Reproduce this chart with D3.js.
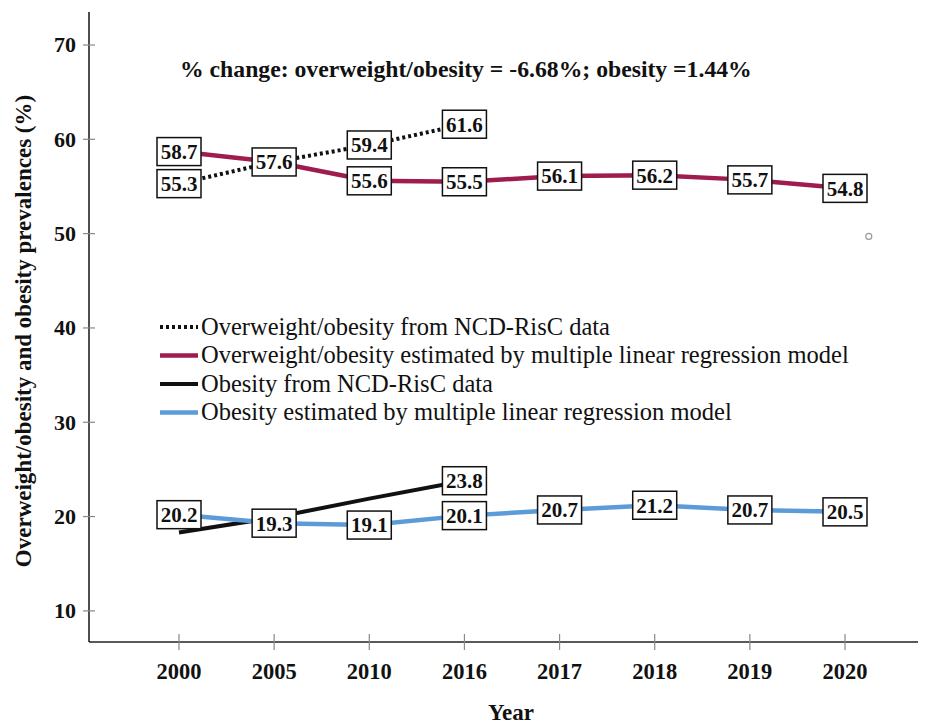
<!DOCTYPE html>
<html>
<head>
<meta charset="utf-8">
<script src="https://cdn.jsdelivr.net/npm/d3@7"></script>
<style>
  html, body { margin: 0; padding: 0; background: #fff; }
  svg { display: block; font-family: "Liberation Serif", "Times New Roman", serif; }
</style>
</head>
<body>
<svg id="chart" width="925" height="726"></svg>
<script>
// Survey years on the categorical x axis
const years = ["2000", "2005", "2010", "2016", "2017", "2018", "2019", "2020"];

// Overweight/obesity prevalence (%)
const owNcd = [55.3, 57.6, 59.4, 61.6];                               // NCD-RisC, 2000-2016
const owModel = [58.7, 57.6, 55.6, 55.5, 56.1, 56.2, 55.7, 54.8];     // regression estimate

// Obesity prevalence (%)
const obNcd = [18.3, 19.9, 21.9, 23.8];                               // NCD-RisC, 2000-2016
const obModel = [20.2, 19.3, 19.1, 20.1, 20.7, 21.2, 20.7, 20.5];     // regression estimate

// Which points of the NCD obesity series carry a value box
const obNcdLabelled = [false, false, false, true];

const yTicks = [10, 20, 30, 40, 50, 60, 70];

const legendLabels = [
  "Overweight/obesity from NCD-RisC data",
  "Overweight/obesity estimated by multiple linear regression model",
  "Obesity from NCD-RisC data",
  "Obesity estimated by multiple linear regression model"
];

const noteText = "% change: overweight/obesity = -6.68%; obesity =1.44%";

// Stray open marker to the right of the last year
const strayPoint = { yearOffset: 0.25, value: 49.7 };

const svg = d3.select("#chart");

const axisLeftX = 89, axisRightX = 918, axisBottomY = 642, axisTopY = 12;

const x = d3.scalePoint().domain(years).range([179, 845]);
const y = d3.scaleLinear().domain([6.7, 73.5]).range([axisBottomY, axisTopY]);

const colors = {
  maroon: "#9e1c4e",
  blue: "#5b9bd8",
  black: "#111111"
};

// ---- axes ----
const axisG = svg.append("g");
axisG.append("line")
  .attr("x1", axisLeftX).attr("x2", axisLeftX)
  .attr("y1", axisTopY).attr("y2", axisBottomY)
  .attr("stroke", "#222").attr("stroke-width", 1.6);
axisG.append("line")
  .attr("x1", axisLeftX).attr("x2", axisRightX)
  .attr("y1", axisBottomY).attr("y2", axisBottomY)
  .attr("stroke", "#222").attr("stroke-width", 1.6);

// y ticks straddle the axis line
axisG.selectAll(".ytick").data(yTicks).join("line")
  .attr("x1", axisLeftX - 6).attr("x2", axisLeftX + 6)
  .attr("y1", d => y(d)).attr("y2", d => y(d))
  .attr("stroke", "#888").attr("stroke-width", 1.2);
axisG.selectAll(".ylab").data(yTicks).join("text")
  .attr("x", 76).attr("y", d => y(d))
  .attr("dy", "0.34em")
  .attr("text-anchor", "end")
  .attr("font-size", 22).attr("font-weight", "bold").attr("fill", "#111")
  .text(d => d);

// x ticks straddle the axis line
axisG.selectAll(".xtick").data(years).join("line")
  .attr("x1", d => x(d)).attr("x2", d => x(d))
  .attr("y1", axisBottomY - 8).attr("y2", axisBottomY + 8)
  .attr("stroke", "#888").attr("stroke-width", 1.2);
axisG.selectAll(".xlab").data(years).join("text")
  .attr("x", d => x(d)).attr("y", 679)
  .attr("text-anchor", "middle")
  .attr("font-size", 22.5).attr("font-weight", "bold").attr("fill", "#111")
  .text(d => d);

// axis titles
svg.append("text")
  .attr("x", 511).attr("y", 720)
  .attr("text-anchor", "middle")
  .attr("font-size", 23).attr("font-weight", "bold").attr("fill", "#111")
  .text("Year");
svg.append("text")
  .attr("transform", "translate(31,331) rotate(-90)")
  .attr("text-anchor", "middle")
  .attr("font-size", 23).attr("font-weight", "bold").attr("fill", "#111")
  .text("Overweight/obesity and obesity prevalences (%)");

// ---- series ----
const line = d3.line()
  .x(d => x(d.year))
  .y(d => y(d.value));

const toPoints = vals => vals.map((v, i) => ({ year: years[i], value: v }));

const series = [
  { vals: owNcd, color: colors.black, width: 4, dash: "3,3" },
  { vals: owModel, color: colors.maroon, width: 4.5, dash: null },
  { vals: obNcd, color: colors.black, width: 4, dash: null },
  { vals: obModel, color: colors.blue, width: 4.5, dash: null }
];

const linesG = svg.append("g");
series.forEach(s => {
  linesG.append("path")
    .datum(toPoints(s.vals))
    .attr("d", line)
    .attr("fill", "none")
    .attr("stroke", s.color)
    .attr("stroke-width", s.width)
    .attr("stroke-linejoin", "round")
    .attr("stroke-dasharray", s.dash);
});

// stray marker
svg.append("circle")
  .attr("cx", x(years[years.length - 1]) + strayPoint.yearOffset * x.step())
  .attr("cy", y(strayPoint.value))
  .attr("r", 3)
  .attr("fill", "#fff")
  .attr("stroke", "#999")
  .attr("stroke-width", 1.2);

// ---- value boxes ----
const labelData = [];
owModel.forEach((v, i) => labelData.push({ year: years[i], value: v }));
owNcd.forEach((v, i) => { if (i !== 1) labelData.push({ year: years[i], value: v }); });
obModel.forEach((v, i) => labelData.push({ year: years[i], value: v }));
obNcd.forEach((v, i) => { if (obNcdLabelled[i]) labelData.push({ year: years[i], value: v }); });

const boxW = 44, boxH = 28;
const labelG = svg.append("g").selectAll("g").data(labelData).join("g")
  .attr("transform", d => `translate(${x(d.year)},${y(d.value)})`);
labelG.append("rect")
  .attr("x", -boxW / 2).attr("y", -boxH / 2)
  .attr("width", boxW).attr("height", boxH)
  .attr("fill", "#fff").attr("stroke", "#111").attr("stroke-width", 1.5);
labelG.append("text")
  .attr("text-anchor", "middle").attr("dy", "0.35em")
  .attr("font-size", 21).attr("font-weight", "bold").attr("fill", "#111")
  .text(d => d.value.toFixed(1));

// ---- note ----
svg.append("text")
  .attr("x", 180).attr("y", 77)
  .attr("font-size", 23.7).attr("font-weight", "bold").attr("fill", "#111")
  .text(noteText);

// ---- legend ----
const legendG = svg.append("g").attr("transform", "translate(160,327)");
const legendRows = legendG.selectAll("g").data(legendLabels).join("g")
  .attr("transform", (d, i) => `translate(0,${i * 28.5})`);
legendRows.append("line")
  .attr("x1", 0).attr("x2", 38).attr("y1", 0).attr("y2", 0)
  .attr("stroke", (d, i) => series[i].color)
  .attr("stroke-width", (d, i) => series[i].width)
  .attr("stroke-dasharray", (d, i) => series[i].dash);
legendRows.append("text")
  .attr("x", 41).attr("dy", "0.32em")
  .attr("font-size", 24.5).attr("fill", "#111")
  .text(d => d);
</script>
</body>
</html>
